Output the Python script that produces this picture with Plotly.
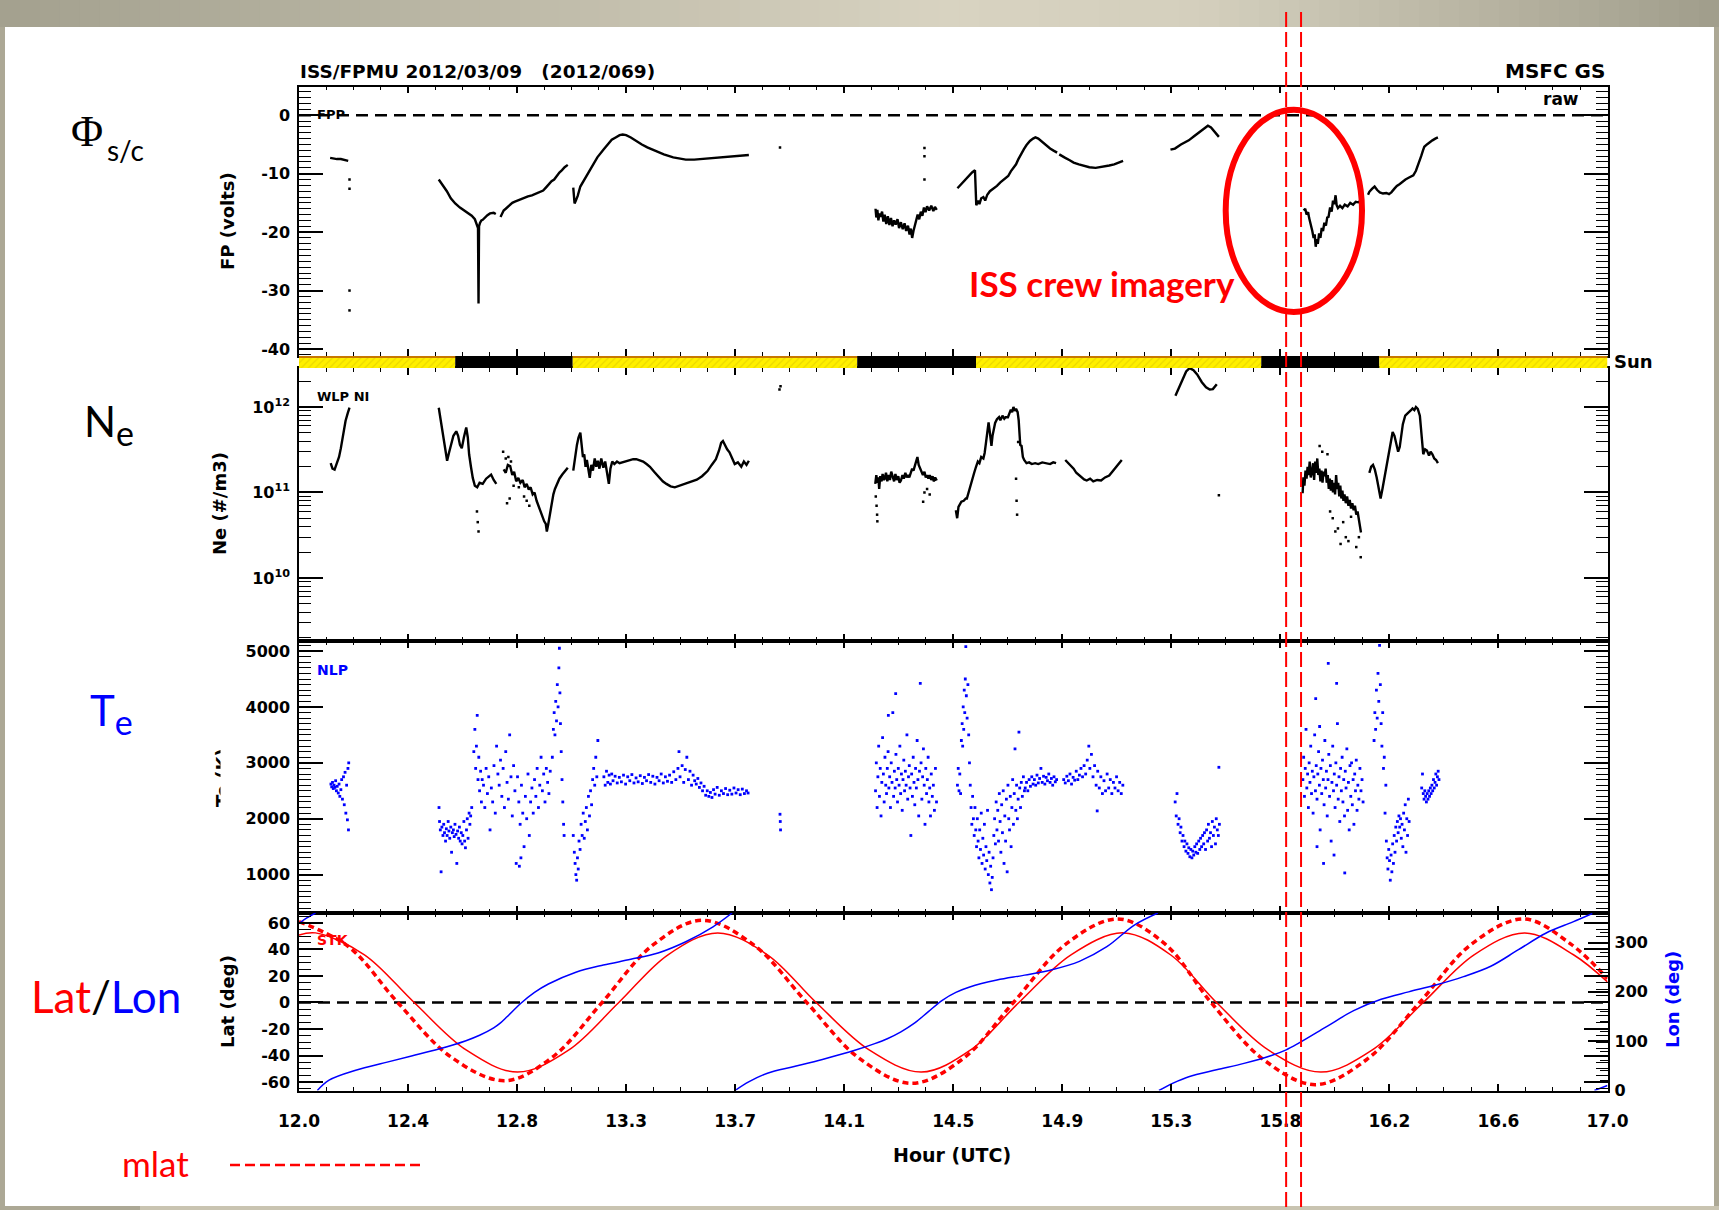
import plotly.graph_objects as go

W, H = 1719, 1210


def px(x):
    return x / W


def py(y):
    return 1 - y / H


# ---------------------------------------------------------------- time axis
HOUR_TICK_TEXT = ["12.0", "12.4", "12.8", "13.3", "13.7", "14.1", "14.5",
                  "14.9", "15.3", "15.8", "16.2", "16.6", "17.0"]
FP_TICKS = [-40, -30, -20, -10, 0]
LAT_TICKS = [-60, -40, -20, 0, 20, 40, 60]

# ---------------------------------------------------------------- sunlight
SUN_EDGES = [12.0, 12.597, 13.046, 14.133, 14.587, 15.677, 16.128, 17.0]
SUN_STATE = ["sun", "eclipse", "sun", "eclipse", "sun", "eclipse", "sun"]

# ---------------------------------------------------------------- floating potential (V)
FP_PASS_1 = [(12.119, -7.3), (12.13, -7.4), (12.145, -7.5), (12.16, -7.5), (12.175, -7.6), (12.188, -7.8)]
FP_PASS_2 = [(12.534, -11.0), (12.55, -12.0), (12.565, -13.0), (12.58, -14.2), (12.597, -15.1), (12.615, -15.8),
             (12.63, -16.3), (12.645, -16.8), (12.66, -17.2), (12.672, -17.8), (12.68, -18.6), (12.684, -19.3),
             (12.686, -32.2), (12.688, -19.0), (12.692, -18.4), (12.697, -18.0), (12.702, -17.9), (12.71, -17.5),
             (12.72, -17.1), (12.73, -16.8), (12.744, -16.7), (12.752, -16.9)]
FP_PASS_3 = [(12.770, -17.4), (12.775, -17.0), (12.782, -16.3), (12.79, -16.0), (12.8, -15.6), (12.806, -15.4),
             (12.815, -15.0), (12.825, -14.8), (12.835, -14.6), (12.848, -14.3), (12.86, -14.1), (12.875, -13.9),
             (12.89, -13.7), (12.905, -13.4), (12.92, -13.1), (12.933, -12.9), (12.945, -12.3), (12.955, -11.8),
             (12.965, -11.3), (12.975, -11.0), (12.985, -10.3), (12.995, -9.8), (13.005, -9.4), (13.015, -8.9),
             (13.027, -8.5)]
FP_PASS_4 = [(13.048, -12.4), (13.05, -13.5), (13.053, -15.1), (13.058, -14.6), (13.065, -13.8), (13.075, -12.2),
             (13.09, -11.0), (13.105, -9.8), (13.121, -8.6), (13.14, -7.2), (13.163, -5.9), (13.18, -4.9),
             (13.195, -4.2), (13.21, -3.8), (13.225, -3.4), (13.237, -3.3), (13.25, -3.4), (13.268, -3.8),
             (13.29, -4.5), (13.31, -5.0), (13.331, -5.5), (13.36, -6.1), (13.394, -6.7), (13.43, -7.2),
             (13.46, -7.5), (13.478, -7.6), (13.51, -7.6), (13.54, -7.5), (13.582, -7.3), (13.62, -7.2),
             (13.66, -7.0), (13.69, -6.9), (13.719, -6.8)]
FP_PASS_5 = [(14.203, -16.0), (14.206, -17.5), (14.21, -16.2), (14.214, -18.0), (14.218, -16.8), (14.222, -17.4),
             (14.228, -16.5), (14.233, -18.2), (14.238, -17.0), (14.244, -18.6), (14.25, -17.3), (14.256, -18.8),
             (14.262, -17.6), (14.268, -19.0), (14.274, -18.0), (14.28, -18.7), (14.287, -17.8), (14.293, -19.3),
             (14.3, -18.3), (14.307, -19.5), (14.314, -18.5), (14.32, -19.8), (14.327, -18.9), (14.333, -20.4),
             (14.338, -19.4), (14.343, -21.0), (14.348, -19.8), (14.353, -19.0), (14.358, -18.2), (14.364, -17.0),
             (14.37, -17.8), (14.376, -16.5), (14.382, -17.2), (14.388, -15.8), (14.394, -16.6), (14.4, -15.6),
             (14.408, -16.3), (14.416, -15.5), (14.424, -16.4), (14.43, -15.7), (14.437, -16.2)]
FP_PASS_6 = [(14.516, -12.5), (14.53, -11.8), (14.545, -11.0), (14.56, -10.3), (14.572, -9.8), (14.583, -9.4),
             (14.585, -13.5), (14.588, -15.4), (14.595, -14.6), (14.6, -15.2), (14.607, -14.2), (14.615, -14.0),
             (14.622, -14.6), (14.63, -13.6), (14.64, -13.0), (14.652, -12.6), (14.667, -12.1), (14.68, -11.5),
             (14.695, -10.9), (14.71, -10.4), (14.72, -9.6), (14.73, -9.0), (14.74, -8.4), (14.748, -7.6),
             (14.755, -7.0), (14.761, -6.4), (14.77, -5.8), (14.78, -5.1), (14.793, -4.4), (14.805, -4.0),
             (14.814, -3.8), (14.825, -4.0), (14.84, -4.6), (14.856, -5.2), (14.87, -5.7), (14.885, -6.1),
             (14.897, -6.4)]
FP_PASS_7 = [(14.905, -6.7), (14.915, -7.0), (14.928, -7.3), (14.945, -7.7), (14.96, -8.1), (14.98, -8.4),
             (15.0, -8.7), (15.02, -8.9), (15.044, -9.0), (15.06, -8.9), (15.08, -8.8), (15.096, -8.6),
             (15.115, -8.4), (15.13, -8.1), (15.149, -7.8)]
FP_PASS_8 = [(15.33, -5.9), (15.347, -5.7), (15.37, -5.0), (15.4, -4.3), (15.42, -3.6), (15.442, -2.8),
             (15.46, -2.2), (15.473, -1.8), (15.485, -2.1), (15.494, -2.6), (15.505, -3.2), (15.515, -3.7)]
FP_PASS_9 = [(15.839, -16.3), (15.845, -16.0), (15.85, -17.0), (15.856, -16.6), (15.86, -17.6), (15.866, -18.5),
             (15.872, -19.8), (15.877, -21.0), (15.881, -20.4), (15.885, -22.5), (15.889, -21.2), (15.893, -22.0),
             (15.898, -20.2), (15.903, -21.0), (15.908, -19.3), (15.913, -19.8), (15.918, -18.4), (15.924, -18.9),
             (15.929, -17.5), (15.934, -17.4), (15.94, -15.8), (15.946, -16.5), (15.951, -14.6), (15.956, -15.2),
             (15.961, -13.7), (15.965, -15.4), (15.97, -15.9), (15.978, -15.5), (15.987, -15.9), (15.996, -15.3),
             (16.007, -15.6), (16.017, -15.0), (16.028, -15.3), (16.038, -14.8), (16.048, -14.9), (16.059, -14.5)]
FP_PASS_10 = [(16.085, -13.6), (16.09, -13.1), (16.1, -12.6), (16.11, -12.2), (16.12, -12.8), (16.13, -13.2),
              (16.142, -13.4), (16.155, -13.3), (16.165, -13.5), (16.174, -13.2), (16.185, -12.6), (16.195, -12.1),
              (16.205, -11.8), (16.216, -11.4), (16.228, -11.0), (16.24, -10.7), (16.258, -10.3), (16.268, -9.5),
              (16.279, -8.3), (16.288, -7.0), (16.295, -6.0), (16.3, -5.4), (16.31, -5.0), (16.32, -4.6),
              (16.331, -4.3), (16.342, -4.0), (16.352, -3.8)]
FP_ISOLATED = [(12.193, -11.0), (12.193, -12.6), (12.193, -30.0), (12.193, -33.4), (13.838, -5.5),
               (14.39, -5.6), (14.39, -7.0), (14.39, -11.0)]

# ---------------------------------------------------------------- electron density (m^-3)
NE_PASS_1 = [(12.121, 2.2e11), (12.128, 1.9e11), (12.136, 1.85e11), (12.145, 2.2e11), (12.153, 2.6e11),
             (12.16, 3.3e11), (12.167, 4.4e11), (12.173, 5.6e11), (12.178, 6.9e11), (12.186, 8.4e11),
             (12.193, 9.8e11)]
NE_PASS_2 = [(12.534, 9.8e11), (12.542, 7.0e11), (12.55, 5.0e11), (12.558, 3.2e11), (12.566, 2.35e11),
             (12.573, 2.9e11), (12.58, 3.6e11), (12.59, 4.6e11), (12.601, 5.2e11), (12.608, 4.6e11),
             (12.615, 3.6e11), (12.622, 3.3e11), (12.63, 4.4e11), (12.639, 5.75e11), (12.645, 4.4e11),
             (12.65, 2.8e11), (12.657, 2.0e11), (12.664, 1.48e11), (12.672, 1.2e11), (12.681, 1.15e11),
             (12.69, 1.3e11), (12.702, 1.26e11), (12.715, 1.45e11), (12.725, 1.55e11), (12.734, 1.62e11),
             (12.744, 1.4e11), (12.754, 1.26e11)]
NE_PASS_3 = [(12.782, 1.86e11), (12.79, 1.7e11), (12.798, 2.1e11), (12.807, 2.04e11), (12.815, 1.6e11),
             (12.822, 1.75e11), (12.83, 1.35e11), (12.838, 1.48e11), (12.846, 1.3e11), (12.855, 1.4e11),
             (12.862, 1.15e11), (12.87, 1.26e11), (12.878, 1.08e11), (12.885, 1.15e11), (12.893, 9.5e10),
             (12.9, 1.0e11), (12.908, 8.0e10), (12.915, 7.0e10), (12.922, 6.0e10), (12.93, 5.0e10),
             (12.937, 4.6e10), (12.943, 4.3e10), (12.947, 3.5e10), (12.952, 4.2e10), (12.958, 5.5e10),
             (12.964, 7.2e10), (12.972, 9.5e10), (12.978, 1.1e11), (12.985, 1.26e11), (12.995, 1.45e11),
             (13.006, 1.62e11), (13.016, 1.8e11), (13.027, 1.95e11)]
NE_PASS_4 = [(13.048, 1.8e11), (13.055, 2.6e11), (13.062, 3.6e11), (13.068, 4.4e11), (13.075, 5.0e11),
             (13.08, 3.6e11), (13.085, 2.6e11), (13.09, 2.8e11), (13.095, 2.0e11), (13.1, 2.4e11),
             (13.106, 1.7e11), (13.111, 1.48e11), (13.117, 2.1e11), (13.123, 1.8e11), (13.13, 2.5e11),
             (13.136, 2.0e11), (13.142, 2.35e11), (13.148, 1.9e11), (13.155, 2.5e11), (13.163, 1.95e11),
             (13.17, 2.3e11), (13.177, 1.6e11), (13.184, 1.26e11), (13.19, 1.9e11), (13.197, 2.3e11),
             (13.205, 2.15e11), (13.215, 2.3e11), (13.225, 2.2e11), (13.237, 2.25e11), (13.25, 2.3e11),
             (13.265, 2.4e11), (13.277, 2.45e11), (13.289, 2.45e11), (13.3, 2.4e11), (13.315, 2.3e11),
             (13.328, 2.15e11), (13.341, 2.0e11), (13.357, 1.75e11), (13.373, 1.55e11), (13.39, 1.35e11),
             (13.404, 1.26e11), (13.42, 1.18e11), (13.436, 1.15e11), (13.455, 1.2e11), (13.478, 1.26e11),
             (13.5, 1.33e11), (13.52, 1.41e11), (13.54, 1.55e11), (13.561, 1.78e11), (13.577, 2.1e11),
             (13.593, 2.45e11), (13.605, 3.1e11), (13.613, 3.8e11), (13.62, 4.0e11), (13.628, 3.5e11),
             (13.636, 3.2e11), (13.645, 2.95e11), (13.655, 2.5e11), (13.665, 2.15e11), (13.677, 2.25e11),
             (13.69, 2.0e11), (13.7, 2.3e11), (13.71, 2.1e11), (13.719, 2.35e11)]
NE_PASS_5 = [(14.202, 1.26e11), (14.206, 1.6e11), (14.21, 1.3e11), (14.214, 1.5e11), (14.217, 1.1e11),
             (14.221, 1.55e11), (14.226, 1.35e11), (14.23, 1.65e11), (14.235, 1.4e11), (14.238, 1.45e11),
             (14.243, 1.7e11), (14.248, 1.35e11), (14.253, 1.6e11), (14.258, 1.4e11), (14.263, 1.75e11),
             (14.269, 1.5e11), (14.274, 1.35e11), (14.279, 1.65e11), (14.284, 1.4e11), (14.29, 1.55e11),
             (14.295, 1.3e11), (14.3, 1.38e11), (14.306, 1.6e11), (14.311, 1.45e11), (14.317, 1.7e11),
             (14.322, 1.5e11), (14.327, 1.6e11), (14.332, 1.5e11), (14.338, 1.7e11), (14.343, 1.9e11),
             (14.348, 1.8e11), (14.353, 2.0e11), (14.358, 2.3e11), (14.363, 2.6e11), (14.368, 2.1e11),
             (14.373, 1.9e11), (14.378, 1.7e11), (14.384, 1.6e11), (14.39, 1.75e11), (14.395, 1.5e11),
             (14.4, 1.6e11), (14.405, 1.45e11), (14.41, 1.6e11), (14.416, 1.4e11), (14.421, 1.55e11),
             (14.426, 1.35e11), (14.431, 1.5e11), (14.437, 1.38e11)]
NE_PASS_6 = [(14.51, 6.2e10), (14.515, 5.0e10), (14.52, 6.8e10), (14.525, 7.2e10), (14.531, 7.8e10),
             (14.54, 8.0e10), (14.548, 8.5e10), (14.552, 8.5e10), (14.558, 1.0e11), (14.565, 1.2e11),
             (14.573, 1.45e11), (14.58, 1.7e11), (14.587, 2.0e11), (14.594, 2.3e11), (14.6, 2.2e11),
             (14.607, 2.6e11), (14.615, 2.5e11), (14.62, 2.9e11), (14.625, 3.8e11), (14.63, 5.0e11),
             (14.635, 6.6e11), (14.64, 5.0e11), (14.646, 3.5e11), (14.65, 4.6e11), (14.655, 5.8e11),
             (14.66, 6.5e11), (14.667, 7.2e11), (14.675, 7.6e11), (14.68, 7.0e11), (14.688, 7.9e11),
             (14.695, 7.3e11), (14.7, 7.6e11), (14.709, 7.6e11), (14.715, 8.5e11), (14.72, 9.3e11),
             (14.725, 8.7e11), (14.73, 1.0e12), (14.735, 9.0e11), (14.74, 9.5e11), (14.746, 8.7e11),
             (14.75, 7.0e11), (14.753, 5.0e11), (14.756, 3.6e11), (14.761, 3.5e11), (14.766, 2.6e11),
             (14.771, 2.4e11), (14.78, 2.2e11), (14.79, 2.25e11), (14.8, 2.15e11), (14.813, 2.2e11),
             (14.825, 2.15e11), (14.84, 2.25e11), (14.855, 2.2e11), (14.87, 2.15e11), (14.882, 2.25e11),
             (14.893, 2.2e11)]
NE_PASS_7 = [(14.928, 2.4e11), (14.94, 2.2e11), (14.95, 2.1e11), (14.96, 1.9e11), (14.97, 1.7e11),
             (14.98, 1.6e11), (14.991, 1.5e11), (15.0, 1.42e11), (15.01, 1.38e11), (15.023, 1.45e11),
             (15.035, 1.35e11), (15.05, 1.4e11), (15.065, 1.38e11), (15.08, 1.5e11), (15.096, 1.58e11),
             (15.105, 1.7e11), (15.117, 1.9e11), (15.13, 2.1e11), (15.144, 2.4e11)]
NE_PASS_8 = [(15.349, 1.35e12), (15.36, 1.6e12), (15.375, 2.1e12), (15.39, 2.6e12), (15.403, 2.85e12),
             (15.418, 2.7e12), (15.432, 2.4e12), (15.45, 1.95e12), (15.466, 1.7e12), (15.48, 1.6e12),
             (15.492, 1.62e12), (15.5, 1.75e12), (15.507, 1.85e12)]
NE_PASS_9 = [(15.835, 9.8e10), (15.838, 1.5e11), (15.842, 1.2e11), (15.846, 1.8e11), (15.85, 1.45e11),
             (15.854, 2.0e11), (15.858, 1.6e11), (15.862, 2.3e11), (15.866, 1.5e11), (15.871, 1.75e11),
             (15.875, 2.2e11), (15.879, 1.4e11), (15.883, 2.3e11), (15.887, 1.7e11), (15.891, 2.5e11),
             (15.895, 1.6e11), (15.899, 1.9e11), (15.903, 1.35e11), (15.907, 1.8e11), (15.911, 1.3e11),
             (15.915, 1.75e11), (15.919, 1.55e11), (15.923, 1.9e11), (15.927, 1.3e11), (15.931, 1.6e11),
             (15.935, 1.1e11), (15.939, 1.45e11), (15.943, 1.05e11), (15.947, 1.4e11), (15.951, 1.0e11),
             (15.955, 1.3e11), (15.959, 9.5e10), (15.963, 1.6e11), (15.967, 1.1e11), (15.971, 1.3e11),
             (15.975, 9.0e10), (15.979, 1.2e11), (15.983, 8.5e10), (15.987, 1.05e11), (15.991, 8.0e10),
             (15.995, 9.5e10), (16.0, 7.5e10), (16.005, 9.0e10), (16.01, 7.0e10), (16.015, 8.2e10),
             (16.02, 6.5e10), (16.025, 7.5e10), (16.03, 6.2e10), (16.035, 7.0e10), (16.04, 5.5e10),
             (16.045, 6.0e10), (16.05, 4.8e10), (16.055, 4.0e10), (16.058, 3.4e10)]
NE_PASS_10 = [(16.09, 1.7e11), (16.097, 2.0e11), (16.104, 2.1e11), (16.111, 1.85e11), (16.118, 1.5e11),
              (16.125, 1.1e11), (16.133, 8.5e10), (16.14, 1.1e11), (16.149, 1.6e11), (16.155, 2.0e11),
              (16.164, 2.7e11), (16.17, 3.8e11), (16.179, 5.1e11), (16.186, 4.6e11), (16.193, 3.6e11),
              (16.2, 3.0e11), (16.206, 3.4e11), (16.212, 4.5e11), (16.218, 6.3e11), (16.227, 7.9e11),
              (16.235, 8.3e11), (16.242, 8.6e11), (16.248, 9.1e11), (16.255, 9.6e11), (16.262, 9.2e11),
              (16.268, 1.0e12), (16.275, 9.5e11), (16.283, 7.9e11), (16.288, 5.0e11), (16.292, 3.2e11),
              (16.296, 2.8e11), (16.303, 3.2e11), (16.31, 3.1e11), (16.318, 2.7e11), (16.324, 3.0e11),
              (16.331, 2.8e11), (16.338, 2.5e11), (16.345, 2.4e11), (16.352, 2.2e11)]
NE_ISOLATED = [(12.68, 6.0e10), (12.683, 4.5e10), (12.686, 3.5e10), (12.78, 3.0e11), (12.79, 2.5e11),
               (12.8, 2.6e11), (12.81, 2.3e11), (12.82, 1.2e11), (12.84, 1.15e11), (12.86, 9.0e10),
               (12.87, 8.0e10), (12.88, 7.0e10), (12.795, 7.5e10), (12.805, 8.5e10), (13.836, 1.6e12),
               (13.84, 1.75e12), (14.204, 9.0e10), (14.207, 7.0e10), (14.209, 5.5e10), (14.21, 4.6e10),
               (14.385, 7.8e10), (14.39, 1.0e11), (14.4, 1.1e11), (14.41, 9.5e10), (14.74, 1.45e11),
               (14.742, 8.0e10), (14.744, 5.5e10), (14.748, 3.9e11), (15.515, 9.3e10), (15.9, 3.5e11),
               (15.91, 3.0e11), (15.93, 2.8e11), (15.94, 6.0e10), (15.95, 5.0e10), (15.96, 3.5e10),
               (15.97, 3.8e10), (15.98, 2.5e10), (15.99, 4.5e10), (16.0, 3.0e10), (16.01, 2.7e10),
               (16.02, 5.2e10), (16.04, 2.3e10), (16.05, 3.0e10), (16.057, 1.75e10)]

# ---------------------------------------------------------------- electron temperature (K)
TE_PASS_1 = [(12.122, 2620), (12.125, 2570), (12.128, 2650), (12.131, 2540), (12.134, 2600), (12.137, 2560),
             (12.14, 2680), (12.143, 2500), (12.146, 2580), (12.15, 2460), (12.153, 2620), (12.156, 2400),
             (12.16, 2520), (12.163, 2700), (12.166, 2350), (12.17, 2750), (12.173, 2250), (12.176, 2830),
             (12.179, 2100), (12.182, 2600), (12.185, 1980), (12.187, 2900), (12.189, 1800), (12.19, 3000)]
TE_PASS_2 = [(12.535, 2200), (12.537, 1950), (12.54, 1800), (12.543, 1050), (12.546, 1850), (12.55, 1700),
             (12.553, 1900), (12.556, 1750), (12.56, 1600), (12.563, 1820), (12.566, 1700), (12.57, 1950),
             (12.573, 1780), (12.576, 1650), (12.58, 1850), (12.583, 1400), (12.586, 1750), (12.59, 1800),
             (12.593, 1680), (12.596, 1900), (12.6, 1720), (12.603, 1200), (12.606, 1780), (12.61, 1650),
             (12.613, 1850), (12.616, 1600), (12.62, 1750), (12.623, 1550), (12.626, 1700), (12.63, 1950),
             (12.633, 1600), (12.636, 1480), (12.64, 1800), (12.643, 2000), (12.646, 1650), (12.65, 2100),
             (12.653, 1900), (12.656, 2050), (12.66, 2200)]
TE_PASS_3 = [(12.668, 3200), (12.672, 3600), (12.675, 2900), (12.678, 3300), (12.681, 3850), (12.684, 2700),
             (12.687, 3100), (12.69, 2500), (12.694, 2850), (12.697, 2300), (12.70, 2700), (12.705, 2600),
             (12.71, 2200), (12.715, 2900), (12.72, 2450), (12.725, 2750), (12.73, 1800), (12.735, 2550),
             (12.74, 2300), (12.745, 2950), (12.75, 2100), (12.755, 3300), (12.76, 2800), (12.765, 2600),
             (12.77, 3050), (12.775, 2400), (12.78, 2900), (12.785, 2200), (12.79, 3200), (12.795, 2650),
             (12.8, 2350), (12.805, 3500), (12.81, 2750), (12.815, 2050), (12.82, 2950), (12.825, 2500),
             (12.83, 1200), (12.835, 2750), (12.84, 2300), (12.842, 1150), (12.845, 1900), (12.848, 1300),
             (12.85, 2600), (12.855, 2100), (12.86, 1500), (12.865, 2400), (12.87, 2000), (12.875, 2800),
             (12.88, 1700), (12.885, 2300), (12.89, 2550), (12.895, 2100), (12.9, 2700), (12.905, 2400),
             (12.91, 2900), (12.915, 2200), (12.92, 2600), (12.925, 3100), (12.93, 2500), (12.935, 2800),
             (12.94, 2300), (12.945, 2900), (12.95, 2650), (12.955, 2450), (12.96, 2850)]
TE_PASS_4 = [(12.968, 3100), (12.972, 3600), (12.975, 3900), (12.978, 3500), (12.981, 4100), (12.984, 3750),
             (12.987, 4400), (12.99, 4000), (12.993, 4700), (12.995, 5050), (12.997, 4250), (12.999, 3700),
             (13.002, 3200), (13.005, 2700), (13.008, 2300), (13.011, 1900), (13.013, 1700)]
TE_PASS_5 = [(13.048, 1700), (13.052, 1400), (13.055, 1200), (13.058, 1000), (13.061, 900), (13.064, 1300),
             (13.067, 1100), (13.07, 1600), (13.074, 1450), (13.078, 1900), (13.082, 1700), (13.086, 2100),
             (13.09, 1650), (13.094, 1950), (13.098, 2200), (13.102, 1800), (13.106, 2400), (13.11, 2050),
             (13.114, 2500), (13.118, 2250), (13.122, 2700), (13.126, 2900), (13.13, 2600), (13.134, 3100),
             (13.138, 2750), (13.142, 3400)]
TE_PASS_6 = [(13.165, 2750), (13.17, 2600), (13.175, 2850), (13.18, 2650), (13.185, 2780), (13.19, 2620),
             (13.195, 2800), (13.2, 2680), (13.208, 2760), (13.216, 2640), (13.224, 2740), (13.232, 2660),
             (13.24, 2780), (13.248, 2620), (13.256, 2750), (13.264, 2680), (13.272, 2790), (13.28, 2640),
             (13.288, 2730), (13.296, 2660), (13.304, 2770), (13.312, 2630), (13.32, 2740), (13.328, 2680),
             (13.336, 2790), (13.344, 2650), (13.352, 2760), (13.36, 2620), (13.368, 2740), (13.376, 2680),
             (13.384, 2800), (13.392, 2640), (13.4, 2750), (13.408, 2670), (13.416, 2780), (13.424, 2650),
             (13.432, 2840), (13.44, 2700), (13.448, 2900), (13.452, 3200), (13.456, 2750), (13.464, 2950),
             (13.47, 2650), (13.476, 2880), (13.482, 3100), (13.488, 2700), (13.494, 2850), (13.5, 2600),
             (13.506, 2780), (13.512, 2680), (13.518, 2620), (13.524, 2720), (13.53, 2560), (13.536, 2640),
             (13.542, 2500), (13.548, 2580), (13.554, 2420), (13.56, 2500), (13.566, 2400), (13.572, 2470),
             (13.578, 2380), (13.584, 2520), (13.59, 2440), (13.598, 2560), (13.606, 2420), (13.614, 2500),
             (13.622, 2450), (13.63, 2540), (13.638, 2430), (13.646, 2510), (13.654, 2440), (13.662, 2550),
             (13.67, 2460), (13.678, 2520), (13.686, 2430), (13.694, 2530), (13.702, 2450), (13.71, 2500),
             (13.716, 2460), (13.838, 2080), (13.839, 1950), (13.84, 1800)]
TE_PASS_7 = [(14.203, 2500), (14.206, 3000), (14.209, 2200), (14.212, 2750), (14.215, 3300), (14.218, 2400),
             (14.221, 2900), (14.224, 2050), (14.227, 2650), (14.23, 3450), (14.233, 2800), (14.236, 2300),
             (14.239, 3100), (14.242, 2600), (14.245, 2450), (14.248, 2900), (14.251, 3200), (14.254, 2550),
             (14.257, 2750), (14.26, 2200), (14.263, 3000), (14.266, 2650), (14.269, 3900), (14.272, 2400),
             (14.275, 2850), (14.278, 2550), (14.281, 3150), (14.284, 2700), (14.287, 2300), (14.29, 2900),
             (14.293, 2600), (14.296, 3300), (14.299, 2450), (14.302, 2800), (14.305, 2150), (14.308, 2700),
             (14.311, 3050), (14.314, 2500), (14.317, 2850), (14.32, 2600), (14.323, 3500), (14.326, 2350),
             (14.329, 2750), (14.332, 2950), (14.335, 2550), (14.338, 1700), (14.341, 2800), (14.344, 2400),
             (14.347, 3100), (14.35, 2650), (14.353, 2250), (14.356, 2900), (14.359, 2550), (14.362, 3400),
             (14.365, 2700), (14.368, 2050), (14.371, 2850), (14.374, 4420), (14.377, 3000), (14.38, 2350),
             (14.383, 2750), (14.386, 3250), (14.389, 2600), (14.392, 1900), (14.395, 2900), (14.398, 2450),
             (14.401, 2700), (14.404, 3100), (14.407, 2300), (14.41, 2550), (14.413, 2050), (14.416, 2800),
             (14.42, 2400), (14.424, 2600), (14.428, 2150), (14.432, 2900), (14.436, 2300), (14.28, 4240),
             (14.252, 3850)]
TE_PASS_8 = [(14.516, 2600), (14.519, 2900), (14.522, 2500), (14.525, 2800), (14.528, 2450), (14.531, 3400),
             (14.534, 3700), (14.536, 3300), (14.538, 4000), (14.54, 3600), (14.542, 4300), (14.544, 3900),
             (14.546, 4500), (14.548, 5080), (14.55, 4200), (14.553, 3800), (14.556, 4400), (14.559, 3500),
             (14.562, 3000), (14.565, 2600), (14.568, 2200), (14.571, 1900)]
TE_PASS_9 = [(14.574, 2400), (14.577, 2000), (14.58, 1700), (14.583, 2200), (14.586, 1800), (14.589, 1500),
             (14.592, 2000), (14.595, 1600), (14.598, 1300), (14.601, 1800), (14.604, 1450), (14.607, 2100),
             (14.61, 1200), (14.613, 1650), (14.616, 1350), (14.619, 1900), (14.622, 1100), (14.625, 1500),
             (14.628, 1250), (14.631, 2150), (14.634, 1000), (14.637, 1400), (14.64, 850), (14.643, 1150),
             (14.646, 730), (14.649, 950), (14.652, 1300), (14.655, 1700), (14.658, 2000), (14.661, 1550),
             (14.664, 2300), (14.667, 1800), (14.67, 2150), (14.673, 1600), (14.676, 2450), (14.679, 1950),
             (14.682, 1400), (14.685, 2250), (14.688, 1750), (14.691, 2500), (14.694, 1200), (14.697, 2050),
             (14.7, 1600), (14.703, 2350), (14.706, 1050), (14.709, 2600), (14.712, 2000), (14.715, 1800),
             (14.718, 2400), (14.721, 1500), (14.724, 2200), (14.727, 2700), (14.73, 1900), (14.733, 2450),
             (14.736, 3250), (14.739, 2150), (14.742, 2600), (14.745, 2000), (14.748, 2350), (14.751, 3550),
             (14.754, 2550), (14.757, 2200), (14.76, 2650), (14.764, 2400), (14.768, 2750), (14.772, 2500)]
TE_PASS_10 = [(14.775, 2550), (14.78, 2650), (14.785, 2500), (14.79, 2700), (14.795, 2580), (14.8, 2750),
              (14.805, 2620), (14.81, 2700), (14.815, 2600), (14.82, 2780), (14.825, 2640), (14.83, 2720),
              (14.835, 2900), (14.84, 2650), (14.845, 2760), (14.85, 2620), (14.855, 2740), (14.86, 2680),
              (14.865, 2800), (14.87, 2650), (14.875, 2720), (14.88, 2600), (14.885, 2750), (14.89, 2660),
              (14.895, 2700)]
TE_PASS_11 = [(14.922, 2700), (14.928, 2640), (14.934, 2760), (14.94, 2680), (14.946, 2800), (14.952, 2620),
              (14.958, 2740), (14.964, 2690), (14.97, 2850), (14.976, 2700), (14.982, 2780), (14.988, 2900),
              (14.994, 2750), (15.0, 2950), (15.006, 2800), (15.012, 3050), (15.018, 3300), (15.022, 2900),
              (15.028, 3150), (15.034, 2750), (15.04, 2950), (15.046, 2600), (15.052, 2850), (15.058, 2550),
              (15.064, 2750), (15.07, 2450), (15.076, 2680), (15.082, 2500), (15.088, 2800), (15.094, 2550),
              (15.1, 2700), (15.106, 2450), (15.112, 2650), (15.118, 2550), (15.124, 2750), (15.13, 2500),
              (15.136, 2650), (15.142, 2450), (15.148, 2600), (15.05, 2140)]
TE_PASS_12 = [(15.348, 2300), (15.352, 2050), (15.355, 2450), (15.359, 1900), (15.363, 2000), (15.367, 1750),
              (15.37, 1850), (15.374, 1600), (15.378, 1700), (15.382, 1500), (15.385, 1600), (15.389, 1420),
              (15.393, 1550), (15.397, 1380), (15.4, 1480), (15.404, 1320), (15.408, 1450), (15.412, 1300),
              (15.415, 1420), (15.419, 1350), (15.423, 1500), (15.427, 1400), (15.43, 1550), (15.434, 1380),
              (15.438, 1600), (15.442, 1450), (15.445, 1650), (15.449, 1500), (15.453, 1700), (15.457, 1550),
              (15.46, 1750), (15.464, 1450), (15.468, 1800), (15.472, 1600), (15.475, 1900), (15.479, 1650),
              (15.483, 1750), (15.487, 1500), (15.49, 1950), (15.494, 1700), (15.498, 1850), (15.502, 1550),
              (15.505, 2000), (15.509, 1800), (15.513, 1700), (15.517, 1900), (15.515, 2920)]
TE_PASS_13 = [(15.836, 2700), (15.839, 3100), (15.842, 2400), (15.845, 2900), (15.848, 3600), (15.851, 2550),
              (15.854, 2800), (15.857, 2200), (15.86, 3000), (15.863, 2650), (15.866, 3300), (15.869, 2450),
              (15.872, 2850), (15.875, 2100), (15.878, 2750), (15.881, 3500), (15.884, 2500), (15.887, 2950),
              (15.89, 2350), (15.893, 2800), (15.896, 3200), (15.899, 2600), (15.902, 1800), (15.905, 2900),
              (15.908, 2450), (15.911, 3050), (15.914, 2700), (15.917, 2250), (15.92, 3400), (15.923, 2550),
              (15.926, 2850), (15.929, 2050), (15.932, 2700), (15.935, 3150), (15.938, 2400), (15.941, 2950),
              (15.944, 1600), (15.947, 2650), (15.95, 3300), (15.953, 2500), (15.956, 2800), (15.959, 2200),
              (15.962, 3000), (15.965, 2600), (15.968, 3700), (15.971, 2350), (15.974, 2750), (15.977, 1950),
              (15.98, 2900), (15.983, 2500), (15.986, 3100), (15.989, 2300), (15.992, 2700), (15.995, 2050),
              (15.998, 2850), (16.001, 2550), (16.004, 3250), (16.007, 2150), (16.01, 2650), (16.013, 1800),
              (16.016, 2950), (16.019, 2400), (16.022, 3000), (16.025, 2250), (16.028, 2700), (16.031, 1900),
              (16.034, 2800), (16.037, 2500), (16.04, 3050), (16.043, 2150), (16.046, 2600), (16.05, 2350),
              (16.054, 2900), (16.058, 2500), (16.062, 2700), (16.066, 2300), (15.885, 4150), (15.9, 3650),
              (15.915, 1200), (15.89, 1500), (15.955, 1350), (15.933, 4780), (15.965, 4420), (15.996, 1030)]
TE_PASS_14 = [(16.108, 3400), (16.111, 3900), (16.114, 3600), (16.117, 4300), (16.12, 3800), (16.123, 4600),
              (16.126, 4100), (16.129, 5100), (16.132, 4400), (16.135, 3700), (16.138, 3300), (16.141, 3900),
              (16.144, 2900), (16.147, 3100), (16.15, 2100), (16.153, 2600)]
TE_PASS_15 = [(16.155, 1600), (16.158, 1300), (16.161, 1100), (16.164, 1450), (16.167, 1250), (16.17, 900),
              (16.173, 1350), (16.176, 1050), (16.179, 1550), (16.182, 1200), (16.185, 1700), (16.188, 1400),
              (16.191, 1850), (16.194, 1600), (16.197, 1950), (16.2, 1750), (16.203, 2050), (16.206, 1850),
              (16.209, 2000), (16.212, 1650), (16.215, 1900), (16.218, 1500), (16.221, 2100), (16.224, 1800),
              (16.227, 2250), (16.23, 1400), (16.233, 2000), (16.236, 1700), (16.239, 2350), (16.242, 1950)]
TE_PASS_16 = [(16.29, 2550), (16.293, 2800), (16.296, 2450), (16.299, 2350), (16.302, 2500), (16.305, 2400),
              (16.308, 2300), (16.311, 2450), (16.314, 2350), (16.317, 2500), (16.32, 2400), (16.323, 2550),
              (16.326, 2450), (16.329, 2600), (16.332, 2500), (16.335, 2700), (16.338, 2550), (16.341, 2650),
              (16.344, 2800), (16.347, 2600), (16.35, 2750), (16.353, 2850), (16.356, 2700)]

# ---------------------------------------------------------------- ephemeris
LAT_HOURS = [12.0, 12.063, 12.25, 12.44, 12.64, 12.835, 13.03, 13.222, 13.41, 13.60, 13.79, 13.976, 14.18,
             14.378, 14.565, 14.751, 14.95, 15.15, 15.33, 15.506, 15.705, 15.905, 16.10, 16.296, 16.49,
             16.684, 16.87, 17.0]
LAT_DEG = [50.8, 52.5, 36, 0, -36, -52.5, -36, 0, 36, 52.5, 36, 0, -36, -52.5, -36, 0, 36, 52.5, 36, 0,
           -36, -52.5, -36, 0, 36, 52.5, 36, 15.5]
MLAT_HOURS = [12.0, 12.19, 12.377, 12.58, 12.786, 12.97, 13.158, 13.35, 13.54, 13.74, 13.94, 14.14, 14.342,
              14.54, 14.73, 14.93, 15.129, 15.31, 15.485, 15.685, 15.883, 16.08, 16.282, 16.48, 16.68, 16.86,
              17.0]
MLAT_DEG = [61, 42, 0, -41, -59, -41, 0, 43, 62, 43, 0, -42, -61, -42, 0, 44, 63, 44, 0, -43, -62, -43, 0,
            44, 63, 44, 18]
LON_PASS_1 = [(12.0, 339), (12.03, 350), (12.063, 360)]
LON_PASS_2 = [(12.07, 0), (12.115, 21), (12.22, 41.6), (12.325, 56), (12.43, 70), (12.534, 84), (12.638, 101),
              (12.69, 112), (12.744, 127), (12.77, 137), (12.796, 150), (12.848, 177), (12.9, 199), (12.953, 216),
              (13.058, 240), (13.163, 254.5), (13.268, 266), (13.372, 279), (13.478, 301.8), (13.582, 332),
              (13.655, 360)]
LON_PASS_3 = [(13.666, 0), (13.72, 18), (13.79, 35), (13.896, 49), (14.0, 63), (14.127, 82), (14.2, 95),
              (14.248, 105), (14.3, 119), (14.353, 137), (14.405, 160), (14.458, 183), (14.51, 199),
              (14.563, 210), (14.667, 224), (14.773, 234), (14.877, 245), (14.982, 262), (15.087, 291.6),
              (15.192, 335.6), (15.282, 360)]
LON_PASS_4 = [(15.286, 0), (15.34, 15), (15.4, 28), (15.506, 42), (15.611, 55), (15.716, 71),
              (15.77, 82), (15.82, 96), (15.925, 129), (16.03, 162), (16.135, 185), (16.24, 200), (16.344, 214),
              (16.45, 231), (16.554, 252), (16.658, 285), (16.764, 319), (16.868, 342), (16.942, 359)]
LON_PASS_5 = [(16.95, 0), (17.0, 10)]

# crew-imagery window marked on the slide (hours UTC)
IMAGERY_WINDOW = [15.772, 15.829]


def join(passes):
    xs, ys = [], []
    for seg in passes:
        for t, v in seg:
            xs.append(t)
            ys.append(v)
        xs.append(None)
        ys.append(None)
    return xs, ys


def unzip(points):
    return [p[0] for p in points], [p[1] for p in points]


IDL = "DejaVu Sans"
SLIDE = "Lato"
RED = "#ff0000"
BLUE = "#0000ff"

fig = go.Figure()

# --- floating potential
fx, fy = join([FP_PASS_1, FP_PASS_2, FP_PASS_3, FP_PASS_4, FP_PASS_5, FP_PASS_6, FP_PASS_7,
               FP_PASS_8, FP_PASS_9, FP_PASS_10])
fig.add_trace(go.Scatter(x=[12, 17], y=[0, 0], mode="lines", xaxis="x", yaxis="y",
                         line=dict(color="black", width=2.5, dash="12px,7px")))
fig.add_trace(go.Scatter(x=fx, y=fy, mode="lines", xaxis="x", yaxis="y",
                         line=dict(color="black", width=2.4)))
ix, iy = unzip(FP_ISOLATED)
fig.add_trace(go.Scatter(x=ix, y=iy, mode="markers", xaxis="x", yaxis="y",
                         marker=dict(color="black", size=2.5, symbol="square")))

# --- sunlight bar
for i, state in enumerate(SUN_STATE):
    t0, t1 = SUN_EDGES[i], SUN_EDGES[i + 1]
    if state == "sun":
        marker = dict(color="#fff000", line=dict(width=0),
                      pattern=dict(shape="/", fgcolor="#d8c200", size=5, solidity=0.25))
    else:
        marker = dict(color="black", line=dict(width=0))
    fig.add_trace(go.Bar(y=[0], x=[t1 - t0], base=[t0], orientation="h", width=[1],
                         xaxis="x5", yaxis="y5", marker=marker))
    if state == "sun":
        fig.add_trace(go.Scatter(x=[t0, t1], y=[0.42, 0.42], mode="lines", xaxis="x5", yaxis="y5",
                                 line=dict(color="#c87800", width=2)))

# --- electron density
nx, ny = join([NE_PASS_1, NE_PASS_2, NE_PASS_3, NE_PASS_4, NE_PASS_5, NE_PASS_6, NE_PASS_7,
               NE_PASS_8, NE_PASS_9, NE_PASS_10])
fig.add_trace(go.Scatter(x=nx, y=ny, mode="lines", xaxis="x2", yaxis="y2",
                         line=dict(color="black", width=2.4)))
ix, iy = unzip(NE_ISOLATED)
fig.add_trace(go.Scatter(x=ix, y=iy, mode="markers", xaxis="x2", yaxis="y2",
                         marker=dict(color="black", size=2.5, symbol="square")))

# --- electron temperature
te_points = (TE_PASS_1 + TE_PASS_2 + TE_PASS_3 + TE_PASS_4 + TE_PASS_5 + TE_PASS_6 + TE_PASS_7 +
             TE_PASS_8 + TE_PASS_9 + TE_PASS_10 + TE_PASS_11 + TE_PASS_12 + TE_PASS_13 + TE_PASS_14 +
             TE_PASS_15 + TE_PASS_16)
tx, ty = unzip(te_points)
fig.add_trace(go.Scatter(x=tx, y=ty, mode="markers", xaxis="x3", yaxis="y3",
                         marker=dict(color=BLUE, size=2.8, symbol="square")))

# --- ephemeris
fig.add_trace(go.Scatter(x=[12, 17], y=[0, 0], mode="lines", xaxis="x4", yaxis="y4",
                         line=dict(color="black", width=2.5, dash="12px,7px")))
lx, ly = join([LON_PASS_1, LON_PASS_2, LON_PASS_3, LON_PASS_4, LON_PASS_5])
fig.add_trace(go.Scatter(x=lx, y=ly, mode="lines", xaxis="x4", yaxis="y6",
                         line=dict(color=BLUE, width=1.5, shape="spline", smoothing=1)))
fig.add_trace(go.Scatter(x=LAT_HOURS, y=LAT_DEG, mode="lines", xaxis="x4", yaxis="y4",
                         line=dict(color=RED, width=1.5, shape="spline", smoothing=1)))
fig.add_trace(go.Scatter(x=MLAT_HOURS, y=MLAT_DEG, mode="lines", xaxis="x4", yaxis="y4",
                         line=dict(color=RED, width=3.5, dash="6px,4px", shape="spline", smoothing=1)))

# ---------------------------------------------------------------- axes
XD = [px(299), px(1607.5)]
major_hours = [12 + k * 5 / 12 for k in range(len(HOUR_TICK_TEXT))]
tickfont = dict(family=IDL, size=16, color="black", weight="bold")


def xaxis(anchor, labels=False, visible=True):
    ax = dict(domain=XD, anchor=anchor, range=[12, 17], showgrid=False, zeroline=False, automargin=False,
              tickmode="array", tickvals=major_hours, ticktext=HOUR_TICK_TEXT,
              ticks="inside", ticklen=7, tickwidth=1.5, tickcolor="black",
              showline=True, linecolor="black", linewidth=1.5, mirror="ticks",
              showticklabels=labels, tickfont=dict(family=IDL, size=17, color="black", weight="bold"),
              ticklabelstandoff=14,
              minor=dict(ticks="inside", ticklen=4, tickwidth=1.2, tickcolor="black",
                         tickmode="linear", tick0=12, dtick=5 / 48))
    if anchor != "y":
        ax["matches"] = "x"
    if not visible:
        ax = dict(domain=XD, anchor=anchor, range=[12, 17], visible=False, matches="x", automargin=False)
    return ax


def yaxis(domain, rng, tickvals, minor, **kw):
    ax = dict(domain=domain, range=rng, showgrid=False, zeroline=False, tickmode="array", automargin=False,
              tickvals=tickvals, ticks="inside", ticklen=24, tickwidth=1.5, tickcolor="black",
              showline=True, linecolor="black", linewidth=1.5, mirror="ticks",
              tickfont=tickfont, ticklabelstandoff=4,
              minor=dict(ticks="inside", ticklen=12, tickwidth=1.2, tickcolor="black", **minor))
    ax.update(kw)
    return ax


ne_minor = [k * 10 ** e for e in range(9, 13) for k in range(2, 10)]

layout = dict(
    width=W, height=H, margin=dict(l=0, r=0, t=0, b=0, pad=0, autoexpand=False), autosize=False,
    paper_bgcolor="#aca895", plot_bgcolor="white", showlegend=False, barmode="overlay",
    xaxis=xaxis("y"),
    xaxis2=xaxis("y2"),
    xaxis3=xaxis("y3"),
    xaxis4=xaxis("y4", labels=True),
    xaxis5=xaxis("y5", visible=False),
    yaxis=yaxis([py(356), py(86.6)], [-41.2, 4.9], FP_TICKS,
                dict(tickmode="linear", tick0=0, dtick=1), anchor="x",
                ticktext=[str(v) for v in FP_TICKS]),
    yaxis2=yaxis([py(641), py(368)], [9.263, 12.456], [1e10, 1e11, 1e12],
                 dict(tickmode="array", tickvals=ne_minor), anchor="x2", type="log",
                 ticktext=["10<sup>10</sup>", "10<sup>11</sup>", "10<sup>12</sup>"]),
    yaxis3=yaxis([py(913), py(641)], [313, 5180], [1000, 2000, 3000, 4000, 5000],
                 dict(tickmode="linear", tick0=0, dtick=100), anchor="x3"),
    yaxis4=yaxis([py(1090.5), py(913)], [-66.4, 67.5], LAT_TICKS,
                 dict(tickmode="linear", tick0=0, dtick=5), anchor="x4",
                 ticktext=[str(v) for v in LAT_TICKS]),
    yaxis5=dict(domain=[py(368), py(356)], range=[-0.5, 0.5], visible=False, anchor="x5", automargin=False),
    yaxis6=dict(overlaying="y4", side="right", anchor="x4", range=[0, 360], showgrid=False, automargin=False,
                zeroline=False, tickmode="array", tickvals=[0, 100, 200, 300], ticks="inside",
                ticklen=20, tickwidth=1.5, tickcolor="black", showline=False, tickfont=tickfont,
                ticklabelstandoff=6,
                minor=dict(ticks="inside", ticklen=8, tickwidth=1.2, tickcolor="black",
                           tickmode="linear", tick0=0, dtick=20)),
)
fig.update_layout(**layout)

# ---------------------------------------------------------------- slide frame
shapes = [dict(type="rect", xref="paper", yref="paper", x0=px(5), x1=px(1714), y0=py(1206), y1=py(27),
               fillcolor="white", line=dict(width=0), layer="below"),
          dict(type="rect", xref="paper", yref="paper", x0=px(140), x1=1, y0=0, y1=py(1206),
               fillcolor="#c9c4b1", line=dict(width=0), layer="below")]
stops = [(0.0, (163, 160, 142)), (0.3, (190, 186, 168)), (0.55, (216, 211, 193)),
         (0.7, (212, 207, 189)), (1.0, (160, 157, 139))]
n_strips = 86
for i in range(n_strips):
    f = (i + 0.5) / n_strips
    for (a, ca), (b, cb) in zip(stops[:-1], stops[1:]):
        if a <= f <= b:
            w = (f - a) / (b - a)
            c = tuple(round(ca[k] + (cb[k] - ca[k]) * w) for k in range(3))
            break
    shapes.append(dict(type="rect", xref="paper", yref="paper", x0=i / n_strips, x1=(i + 1) / n_strips + 0.001,
                       y0=py(27), y1=1, fillcolor="rgb(%d,%d,%d)" % c, line=dict(width=0), layer="below"))

# crew-imagery markers
for t in IMAGERY_WINDOW:
    shapes.append(dict(type="line", xref="x", yref="paper", x0=t, x1=t, y0=py(1207), y1=py(12),
                       line=dict(color=RED, width=2, dash="15px,5px"), layer="above"))
shapes.append(dict(type="circle", xref="paper", yref="paper", x0=px(1225.7), x1=px(1362), y0=py(312),
                   y1=py(109.7), line=dict(color=RED, width=6), layer="above"))
shapes.append(dict(type="line", xref="paper", yref="paper", x0=px(230), x1=px(420), y0=py(1165),
                   y1=py(1165), line=dict(color=RED, width=2.5, dash="10px,5px")))
fig.update_layout(shapes=shapes)

# ---------------------------------------------------------------- text


def note(text, x, y, size, family=IDL, color="black", xanchor="center", bold=True, angle=0, **kw):
    d = dict(text=text, x=px(x), y=py(y), xref="paper", yref="paper", showarrow=False,
             xanchor=xanchor, yanchor="middle", textangle=angle,
             font=dict(family=family, size=size, color=color, weight="bold" if bold else "normal"))
    d.update(kw)
    return d


NB = "\u00a0"
SUB_E = "<sub><span style='font-size:34px'>e</span></sub>"
annotations = [
    note("ISS/FPMU 2012/03/09" + NB * 3 + "(2012/069)", 298, 71, 18.5, xanchor="left"),
    note("MSFC GS", 1607, 71, 20, xanchor="right"),
    note("raw", 1581, 99, 17, xanchor="right"),
    note("FPP", 315, 114, 13, xanchor="left"),
    note("WLP NI", 315, 397, 13, xanchor="left"),
    note("NLP", 315, 670, 14, color=BLUE, xanchor="left"),
    note("STK", 315, 940, 14, color=RED, xanchor="left"),
    note("Sun", 1612, 361, 18, xanchor="left"),
    note("FP (volts)", 227, 221, 18, angle=-90),
    note("Ne (#/m3)", 219, 504, 18, angle=-90),
    note("Te (K)", 222, 777, 18, angle=-90),
    note(NB, 230, 777, 10, bgcolor="white", width=16, height=110),
    note("Lat (deg)", 227, 1001, 18, angle=-90),
    note("Lon (deg)", 1672, 1000, 18, color=BLUE, angle=-90),
    note("Hour (UTC)", 952, 1155, 19),
    # slide labels
    note("\u03a6", 87, 131, 44, family="Liberation Serif", bold=False),
    note("s/c", 126, 150, 28, family=SLIDE, bold=False),
    note("N" + SUB_E, 82, 424, 42, family=SLIDE, bold=False, xanchor="left"),
    note("T" + SUB_E, 88, 713, 42, family=SLIDE, color=BLUE, bold=False, xanchor="left"),
    note("<span style='color:#ff0000'>Lat</span>/<span style='color:#0000ff'>Lon</span>", 106, 996, 44,
         family=SLIDE, bold=False),
    note("mlat", 155, 1163, 35, family=SLIDE, color=RED, bold=False),
    note("ISS crew imagery", 1102, 283, 35, family=SLIDE, color=RED),
]
fig.update_layout(annotations=annotations)

fig.write_html("out.html")
